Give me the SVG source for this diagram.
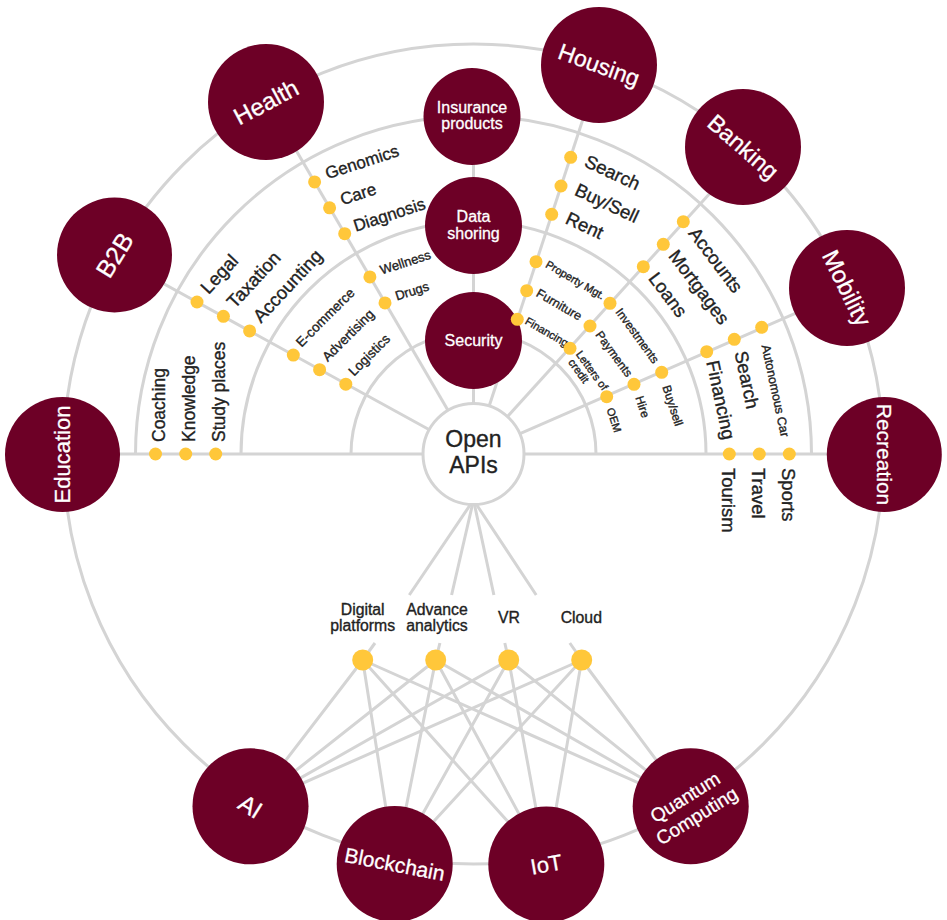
<svg xmlns="http://www.w3.org/2000/svg" width="947" height="920" viewBox="0 0 947 920">
<style>
.ln{stroke:#d4d4d4;stroke-width:3;fill:none}
.hub{fill:#6d0026}
.dot{fill:#ffc73a}
.ht{fill:#fff;stroke:#fff;stroke-width:0.3px;font-family:"Liberation Sans",Arial,sans-serif;text-anchor:middle;dominant-baseline:central}
.st{fill:#fff;stroke:#fff;stroke-width:0.3px;font-family:"Liberation Sans",Arial,sans-serif;text-anchor:middle;font-size:16px}
.lb{fill:#222;stroke:#222;stroke-width:0.35px;font-family:"Liberation Sans",Arial,sans-serif;dominant-baseline:central}
.ct{fill:#222;stroke:#222;stroke-width:0.35px;font-family:"Liberation Sans",Arial,sans-serif;text-anchor:middle}
.o{font-size:18.5px}
.h{font-size:17px}
.i{font-size:13px}
.s{font-size:12px}
.xs{font-size:11px}
</style>
<rect width="947" height="920" fill="#fff"/>
<g id="connectors">
<circle class="ln" cx="473.5" cy="454" r="410"/>
<path class="ln" d="M135.5 454A338 338 0 0 1 811.5 454"/>
<path class="ln" d="M241 454A232.5 232.5 0 0 1 706 454"/>
<path class="ln" d="M351 454A122.5 122.5 0 0 1 596 454"/>
<line class="ln" x1="62" y1="454" x2="885" y2="454"/>
<line class="ln" x1="473.5" y1="454" x2="114.2" y2="256.5"/>
<line class="ln" x1="473.5" y1="454" x2="266.7" y2="100"/>
<line class="ln" x1="473.5" y1="454" x2="473.5" y2="116"/>
<line class="ln" x1="473.5" y1="454" x2="600.9" y2="64.3"/>
<line class="ln" x1="473.5" y1="454" x2="748.9" y2="150.3"/>
<line class="ln" x1="473.5" y1="454" x2="849.2" y2="289.9"/>
<path class="ln" d="M473.5 500L409.3 595M375 643L362.7 660"/>
<path class="ln" d="M473.5 500L451.6 595M439.9 643L435.7 660"/>
<path class="ln" d="M473.5 500L493.9 595M504.8 643L508.7 660"/>
<path class="ln" d="M473.5 500L536.2 595M569.8 643L581.7 660"/>
<path class="ln" d="M362.7 660L250.5 806.3M362.7 660L394.7 864M362.7 660L546.3 864.5M362.7 660L690.7 806.2"/>
<path class="ln" d="M435.7 660L250.5 806.3M435.7 660L394.7 864M435.7 660L546.3 864.5M435.7 660L690.7 806.2"/>
<path class="ln" d="M508.7 660L250.5 806.3M508.7 660L394.7 864M508.7 660L546.3 864.5M508.7 660L690.7 806.2"/>
<path class="ln" d="M581.7 660L250.5 806.3M581.7 660L394.7 864M581.7 660L546.3 864.5M581.7 660L690.7 806.2"/>
</g>
<g id="open-apis">
<circle cx="473.5" cy="454" r="50.5" fill="#fff" stroke="#d4d4d4" stroke-width="3"/>
<text class="ct" x="473.5" y="447.3" font-size="23">Open</text>
<text class="ct" x="473.5" y="473.3" font-size="23">APIs</text>
</g>
<g id="insurance"><circle class="hub" cx="472" cy="116.5" r="48.5"/><text class="st" x="472" y="113.3">Insurance</text><text class="st" x="472" y="129.3">products</text></g>
<g id="data-shoring"><circle class="hub" cx="473.5" cy="225.5" r="48.5"/><text class="st" x="473.5" y="222.3">Data</text><text class="st" x="473.5" y="239">shoring</text></g>
<g id="security"><circle class="hub" cx="473.5" cy="340.5" r="48.5"/><text class="st" x="473.5" y="345.5" font-size="16.5">Security</text></g>
<g id="education"><circle class="hub" cx="62.5" cy="454.5" r="57.5"/><text class="ht" transform="translate(62.5 454.5) rotate(-90)" font-size="22">Education</text></g>
<g id="b2b"><circle class="hub" cx="114.5" cy="255" r="57.5"/><text class="ht" transform="translate(114.5 255) rotate(-58)" font-size="25">B2B</text></g>
<g id="health"><circle class="hub" cx="266" cy="102" r="58"/><text class="ht" transform="translate(266 102) rotate(-28)" font-size="24">Health</text></g>
<g id="housing"><circle class="hub" cx="599" cy="65" r="58"/><text class="ht" transform="translate(599 65) rotate(20)" font-size="23">Housing</text></g>
<g id="banking"><circle class="hub" cx="743" cy="147" r="58"/><text class="ht" transform="translate(743 147) rotate(41)" font-size="23.5">Banking</text></g>
<g id="mobility"><circle class="hub" cx="847" cy="288" r="58"/><text class="ht" transform="translate(847 288) rotate(64)" font-size="24">Mobility</text></g>
<g id="recreation"><circle class="hub" cx="884.3" cy="454.5" r="57.5"/><text class="ht" transform="translate(884.3 454.5) rotate(90)" font-size="21">Recreation</text></g>
<g id="ai"><circle class="hub" cx="250.5" cy="806.3" r="58"/><text class="ht" transform="translate(250.5 806.3) rotate(32)" font-size="24">AI</text></g>
<g id="blockchain"><circle class="hub" cx="394.7" cy="864" r="58"/><text class="ht" transform="translate(394.7 864) rotate(11)" font-size="21">Blockchain</text></g>
<g id="iot"><circle class="hub" cx="546.3" cy="864.5" r="58"/><text class="ht" transform="translate(546.3 864.5) rotate(-10)" font-size="22">IoT</text></g>
<g id="quantum"><circle class="hub" cx="690.7" cy="806.2" r="58"/><text class="ht" transform="translate(690.7 806.2) rotate(-32)" font-size="19"><tspan x="0" y="-11">Quantum</tspan><tspan x="0" y="11">Computing</tspan></text></g>
<g id="b2b-items">
<g id="legal"><circle class="dot" cx="197" cy="302" r="6.5"/><text class="lb o" transform="translate(197 302) rotate(-47)" x="13" y="-3">Legal</text></g>
<g id="taxation"><circle class="dot" cx="223.4" cy="316.3" r="6.5"/><text class="lb o" transform="translate(223.4 316.3) rotate(-47)" x="13" y="-3">Taxation</text></g>
<g id="accounting"><circle class="dot" cx="249.6" cy="330.9" r="6.5"/><text class="lb o" transform="translate(249.6 330.9) rotate(-47)" x="13" y="-3">Accounting</text></g>
<g id="ecommerce"><circle class="dot" cx="293.3" cy="355.1" r="6.5"/><text class="lb" font-size="13.5" transform="translate(293.3 355.1) rotate(-45)" x="11" y="-4">E-commerce</text></g>
<g id="advertising"><circle class="dot" cx="319.6" cy="369.7" r="6.5"/><text class="lb" font-size="13.5" transform="translate(319.6 369.7) rotate(-45)" x="11" y="-4">Advertising</text></g>
<g id="logistics"><circle class="dot" cx="345.8" cy="384.2" r="6.5"/><text class="lb" font-size="13.5" transform="translate(345.8 384.2) rotate(-45)" x="11" y="-4">Logistics</text></g>
</g>
<g id="health-items">
<g id="genomics"><circle class="dot" cx="314.6" cy="181.9" r="6.5"/><text class="lb h" transform="translate(314.6 181.9) rotate(-18)" x="13" y="-4">Genomics</text></g>
<g id="care"><circle class="dot" cx="329.6" cy="207.8" r="6.5"/><text class="lb h" transform="translate(329.6 207.8) rotate(-18)" x="13" y="-4">Care</text></g>
<g id="diagnosis"><circle class="dot" cx="344.7" cy="233.7" r="6.5"/><text class="lb h" transform="translate(344.7 233.7) rotate(-18)" x="11" y="-4">Diagnosis</text></g>
<g id="wellness"><circle class="dot" cx="369.9" cy="276.9" r="6.5"/><text class="lb i" transform="translate(369.9 276.9) rotate(-18)" x="12" y="-3">Wellness</text></g>
<g id="drugs"><circle class="dot" cx="385" cy="302.9" r="6.5"/><text class="lb i" transform="translate(385 302.9) rotate(-18)" x="12" y="-3">Drugs</text></g>
</g>
<g id="housing-items">
<g id="h-search"><circle class="dot" cx="570.7" cy="157.3" r="6.5"/><text class="lb o" transform="translate(570.7 157.3) rotate(25)" x="15" y="-4">Search</text></g>
<g id="h-buysell"><circle class="dot" cx="561" cy="186" r="6.5"/><text class="lb o" transform="translate(561 186) rotate(25)" x="15" y="-4">Buy/Sell</text></g>
<g id="h-rent"><circle class="dot" cx="551.7" cy="214.3" r="6.5"/><text class="lb o" transform="translate(551.7 214.3) rotate(25)" x="15" y="-4">Rent</text></g>
<g id="h-property"><circle class="dot" cx="536" cy="261.7" r="6.5"/><text class="lb xs" transform="translate(536 261.7) rotate(30)" x="10" y="-4">Property Mgt.</text></g>
<g id="h-furniture"><circle class="dot" cx="526.7" cy="290.7" r="6.5"/><text class="lb" font-size="12.5" transform="translate(526.7 290.7) rotate(30)" x="10" y="-4">Furniture</text></g>
<g id="h-financing"><circle class="dot" cx="517.3" cy="319.3" r="6.5"/><text class="lb xs" transform="translate(517.3 319.3) rotate(30)" x="8" y="-4">Financing</text></g>
</g>
<g id="banking-items">
<g id="accounts"><circle class="dot" cx="683.3" cy="221.7" r="6.5"/><text class="lb o" transform="translate(683.3 221.7) rotate(53)" x="12" y="-3">Accounts</text></g>
<g id="mortgages"><circle class="dot" cx="663.3" cy="244.3" r="6.5"/><text class="lb o" transform="translate(663.3 244.3) rotate(53)" x="12" y="-3">Mortgages</text></g>
<g id="loans"><circle class="dot" cx="643.3" cy="266.7" r="6.5"/><text class="lb o" transform="translate(643.3 266.7) rotate(53)" x="12" y="-3">Loans</text></g>
<g id="investments"><circle class="dot" cx="610" cy="303.3" r="6.5"/><text class="lb s" transform="translate(610 303.3) rotate(54)" x="10" y="-3">Investments</text></g>
<g id="payments"><circle class="dot" cx="590" cy="326" r="6.5"/><text class="lb s" transform="translate(590 326) rotate(54)" x="10" y="-3">Payments</text></g>
<g id="letters"><circle class="dot" cx="570" cy="348.3" r="6.5"/><text class="lb xs" transform="translate(570 348.3) rotate(54)"><tspan x="8" y="-5">Letters of</tspan><tspan x="10" y="6">credit</tspan></text></g>
</g>
<g id="mobility-items">
<g id="autocar"><circle class="dot" cx="761.7" cy="327.3" r="6.5"/><text class="lb" font-size="12.5" transform="translate(761.7 327.3) rotate(78)" x="18" y="0">Autonomous Car</text></g>
<g id="m-search"><circle class="dot" cx="734.3" cy="339.3" r="6.5"/><text class="lb o" transform="translate(734.3 339.3) rotate(78)" x="13" y="-4">Search</text></g>
<g id="m-financing"><circle class="dot" cx="706.7" cy="351.7" r="6.5"/><text class="lb o" transform="translate(706.7 351.7) rotate(78)" x="10" y="-4">Financing</text></g>
<g id="m-buysell"><circle class="dot" cx="661.7" cy="372.3" r="6.5"/><text class="lb s" transform="translate(661.7 372.3) rotate(72)" x="14" y="0">Buy/sell</text></g>
<g id="m-hire"><circle class="dot" cx="634" cy="384.3" r="6.5"/><text class="lb s" transform="translate(634 384.3) rotate(72)" x="13" y="-1">Hire</text></g>
<g id="m-oem"><circle class="dot" cx="606.7" cy="396.7" r="6.5"/><text class="lb xs" transform="translate(606.7 396.7) rotate(72)" x="12" y="0">OEM</text></g>
</g>
<g id="education-items">
<g id="coaching"><circle class="dot" cx="155.5" cy="454" r="6.5"/><text class="lb" font-size="17.5" transform="translate(155.5 454) rotate(-90)" x="12" y="3">Coaching</text></g>
<g id="knowledge"><circle class="dot" cx="185.7" cy="454" r="6.5"/><text class="lb" font-size="17.5" transform="translate(185.7 454) rotate(-90)" x="12" y="3">Knowledge</text></g>
<g id="study"><circle class="dot" cx="215.7" cy="454" r="6.5"/><text class="lb" font-size="17.5" transform="translate(215.7 454) rotate(-90)" x="12" y="3">Study places</text></g>
</g>
<g id="recreation-items">
<g id="tourism"><circle class="dot" cx="729.3" cy="454" r="6.5"/><text class="lb o" transform="translate(729.3 454) rotate(90)" x="14" y="1">Tourism</text></g>
<g id="travel"><circle class="dot" cx="759.3" cy="454" r="6.5"/><text class="lb o" transform="translate(759.3 454) rotate(90)" x="14" y="1">Travel</text></g>
<g id="sports"><circle class="dot" cx="789.3" cy="454" r="6.5"/><text class="lb o" transform="translate(789.3 454) rotate(90)" x="14" y="1">Sports</text></g>
</g>
<g id="tech">
<g id="digital"><circle class="dot" cx="362.7" cy="660" r="10.5"/><text class="ct" font-size="15.8" x="362.7" y="615">Digital</text><text class="ct" font-size="15.8" x="362.7" y="630.5">platforms</text></g>
<g id="advance"><circle class="dot" cx="435.7" cy="660" r="10.5"/><text class="ct" font-size="15.8" x="437" y="615">Advance</text><text class="ct" font-size="15.8" x="437" y="630.5">analytics</text></g>
<g id="vr"><circle class="dot" cx="508.7" cy="660" r="10.5"/><text class="ct" font-size="15.8" x="509" y="622.7">VR</text></g>
<g id="cloud"><circle class="dot" cx="581.7" cy="660" r="10.5"/><text class="ct" font-size="15.8" x="581.3" y="622.7">Cloud</text></g>
</g>
</svg>
